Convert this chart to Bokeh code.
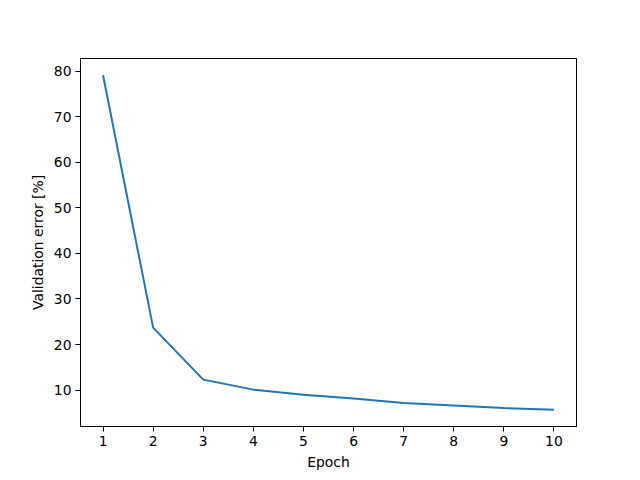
from bokeh.plotting import figure
from bokeh.models import FixedTicker, Range1d
from bokeh.embed import file_html
from bokeh.resources import INLINE

epochs = [1, 2, 3, 4, 5, 6, 7, 8, 9, 10]
val_error = [79.1, 23.7, 12.3, 10.1, 8.96, 8.15, 7.15, 6.62, 6.05, 5.68]
x_ticks = [1, 2, 3, 4, 5, 6, 7, 8, 9, 10]
y_ticks = [10, 20, 30, 40, 50, 60, 70, 80]

p = figure(width=632, height=472, output_backend="svg", toolbar_location=None,
           x_range=Range1d(0.55, 10.45), y_range=Range1d(2.01, 82.77),
           min_border_left=80, min_border_right=56, min_border_top=58, min_border_bottom=45)

p.line(epochs, val_error, line_color="#1f77b4", line_width=2)

p.xgrid.visible = False
p.ygrid.visible = False
p.outline_line_color = "black"
p.outline_line_width = 1
p.outline_line_alpha = 1

p.xaxis.ticker = FixedTicker(ticks=x_ticks)
p.yaxis.ticker = FixedTicker(ticks=y_ticks)
p.xaxis.axis_label = "Epoch"
p.yaxis.axis_label = "Validation error [%]"

for ax in (p.xaxis[0], p.yaxis[0]):
    ax.axis_line_color = "black"
    ax.major_tick_line_color = "black"
    ax.major_tick_in = 0
    ax.major_tick_out = 5
    ax.minor_tick_line_color = None
    ax.major_label_text_font = "DejaVu Sans"
    ax.major_label_text_font_size = "13.9px"
    ax.major_label_text_color = "black"
    ax.axis_label_text_font = "DejaVu Sans"
    ax.axis_label_text_font_size = "13.9px"
    ax.axis_label_text_font_style = "normal"
    ax.axis_label_text_color = "black"
    ax.major_label_standoff = 4
    ax.axis_label_standoff = 5

open("out.html", "w").write(file_html(p, INLINE))
